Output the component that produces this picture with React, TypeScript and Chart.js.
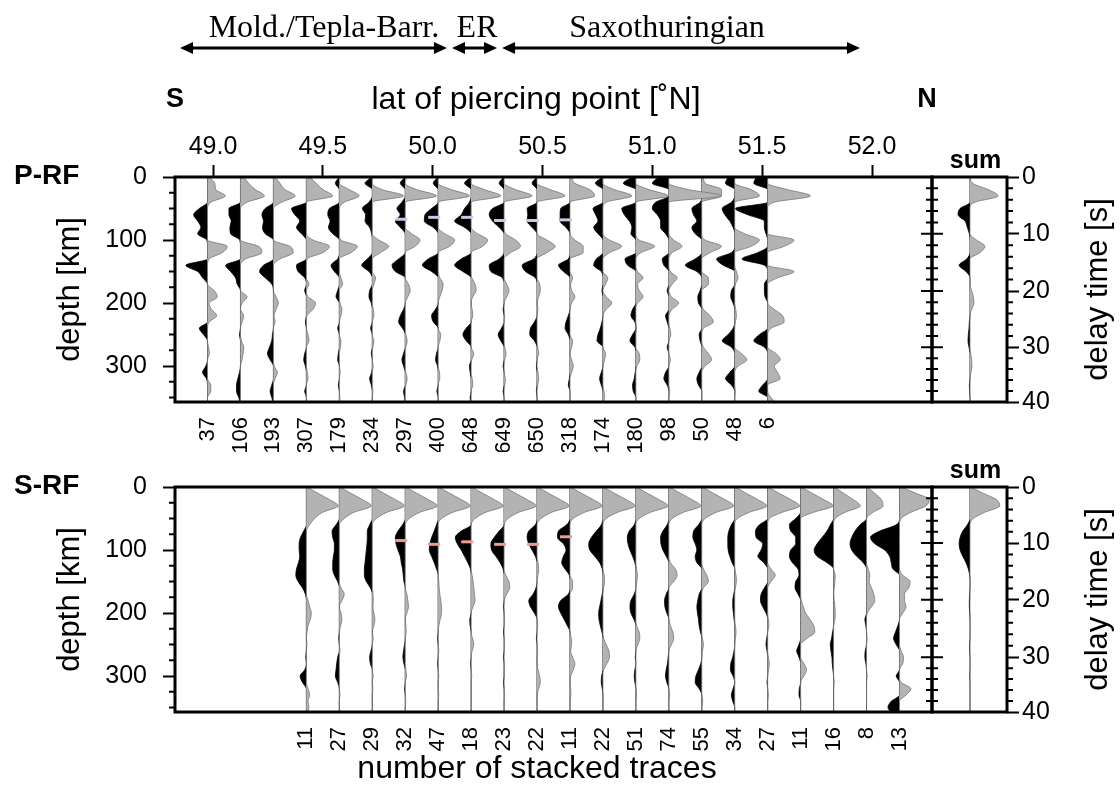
import React, { useEffect, useRef } from 'react';
import { Chart, registerables } from 'chart.js';

Chart.register(...registerables);

const SANS = '"Liberation Sans", Arial, Helvetica, sans-serif';
const SERIF = '"Liberation Serif", "Times New Roman", Times, serif';

// depth samples (km) shared by every receiver-function trace
const DEPTHS = [
  0, 10, 20, 30, 40, 50, 60, 70, 80, 90,
  100, 110, 120, 130, 140, 150, 160, 170, 180, 190,
  200, 210, 220, 230, 240, 250, 260, 270, 280, 290,
  300, 310, 320, 330, 340, 350, 360,
];

const LAT_TICKS = [49.0, 49.5, 50.0, 50.5, 51.0, 51.5, 52.0];
const DEPTH_TICKS = [0, 100, 200, 300];
const DEPTH_MINOR = [25, 50, 75, 125, 150, 175, 225, 250, 275, 325, 350];
const TIME_TICKS = [0, 10, 20, 30, 40];
const TIME_MINOR = [2, 4, 6, 8, 12, 14, 16, 18, 22, 24, 26, 28, 32, 34, 36, 38];
const P_TIME_DEPTHS = [0, 90, 181, 270, 357];
const S_TIME_DEPTHS = [0, 89, 179, 270, 357];

// bin centres (latitude of piercing point) and stack counts
const P_LATS = [48.975, 49.125, 49.275, 49.425, 49.575, 49.725, 49.875, 50.025, 50.175,
  50.325, 50.475, 50.625, 50.775, 50.925, 51.075, 51.225, 51.375, 51.525];
const P_COUNTS = [37, 106, 193, 307, 179, 234, 297, 400, 648, 649, 650, 318, 174, 180, 98, 50, 48, 6];
const S_LATS = [49.425, 49.575, 49.725, 49.875, 50.025, 50.175, 50.325, 50.475, 50.625, 50.775,
  50.925, 51.075, 51.225, 51.375, 51.525, 51.675, 51.825, 51.975, 52.125];
const S_COUNTS = [11, 27, 29, 32, 47, 18, 23, 22, 11, 22, 51, 74, 55, 34, 27, 11, 16, 8, 13];

// P receiver functions, amplitude in bin widths, one value per depth sample
const P01 = [0.05, 0.22, 0.25, 0.54, 0.10, -0.25, -0.42, -0.30, -0.20, -0.30,
  -0.02, 0.60, 0.45, 0.05, -0.66, -0.30, -0.15, 0.00, 0.20, 0.30,
  0.05, 0.12, 0.28, 0.05, -0.25, -0.12, 0.00, 0.03, 0.06, 0.00,
  -0.05, -0.15, -0.03, 0.10, 0.10, 0.00, 0.00];
const P02 = [0.10, 0.25, 0.45, 0.73, 0.20, -0.35, -0.35, -0.28, -0.32, -0.30,
  -0.02, 0.55, 0.65, 0.15, -0.45, -0.30, -0.15, -0.10, 0.00, 0.20,
  0.05, 0.00, 0.10, 0.05, 0.00, -0.03, 0.03, 0.10, 0.08, 0.05,
  0.00, -0.03, -0.08, -0.12, -0.12, -0.05, 0.00];
const P03 = [0.05, 0.20, 0.35, 0.66, 0.25, -0.25, -0.35, -0.30, -0.33, -0.25,
  0.00, 0.50, 0.60, 0.20, -0.30, -0.42, -0.25, -0.05, 0.00, 0.08,
  0.15, 0.08, 0.02, 0.05, 0.00, -0.03, -0.05, -0.12, -0.18, -0.10,
  0.02, 0.12, 0.05, -0.05, -0.10, -0.05, 0.00];
const P04 = [0.10, 0.30, 0.50, 0.80, 0.00, -0.45, -0.35, -0.20, -0.30, -0.15,
  0.20, 0.70, 0.50, 0.02, -0.30, -0.25, -0.05, 0.08, -0.05, 0.05,
  0.28, 0.20, 0.02, -0.03, 0.00, 0.05, 0.08, 0.00, -0.05, -0.08,
  -0.03, 0.03, 0.05, 0.00, -0.05, 0.00, 0.00];
const P05 = [0.05, -0.12, 0.30, 0.60, 0.15, -0.30, -0.35, -0.28, -0.33, -0.20,
  0.05, 0.55, 0.35, -0.05, -0.25, -0.15, 0.05, 0.10, -0.05, -0.10,
  0.02, 0.08, 0.05, 0.00, -0.05, 0.00, 0.05, 0.03, -0.03, -0.05,
  0.00, 0.03, 0.00, -0.03, 0.00, 0.02, 0.00];
const P06 = [0.00, -0.22, 0.30, 0.95, -0.10, -0.30, -0.20, -0.22, -0.08, -0.02,
  0.20, 0.50, 0.25, -0.15, -0.32, -0.10, 0.10, 0.05, -0.08, -0.10,
  -0.03, 0.03, 0.05, 0.00, -0.05, 0.00, 0.05, 0.02, -0.03, 0.00,
  0.03, -0.02, -0.08, -0.03, 0.02, 0.00, 0.00];
const P07 = [0.05, -0.15, 0.35, 0.95, -0.10, -0.25, -0.15, -0.30, -0.15, 0.20,
  0.45, 0.30, 0.00, -0.20, -0.40, -0.30, 0.00, 0.10, 0.15, 0.08,
  0.00, -0.05, -0.15, -0.20, -0.08, 0.02, 0.06, 0.02, -0.05, -0.10,
  -0.05, 0.02, 0.06, 0.02, -0.05, -0.02, 0.00];
const P08 = [0.00, -0.15, 0.40, 0.95, 0.00, -0.20, -0.40, -0.42, -0.15, 0.20,
  0.50, 0.35, 0.00, -0.30, -0.48, -0.20, 0.05, 0.15, 0.12, 0.05,
  0.00, -0.08, -0.20, -0.15, 0.00, 0.08, 0.05, 0.00, -0.05, -0.08,
  -0.02, 0.04, 0.05, 0.00, -0.04, 0.00, 0.00];
const P09 = [0.00, -0.20, 0.40, 0.90, -0.05, -0.20, -0.30, -0.50, -0.20, 0.20,
  0.50, 0.35, 0.00, -0.30, -0.50, -0.25, 0.02, 0.12, 0.15, 0.05,
  0.00, 0.03, 0.05, 0.00, -0.15, -0.25, -0.15, 0.00, 0.08, 0.02,
  -0.05, -0.03, 0.03, 0.05, 0.00, -0.03, 0.00];
const P10 = [0.00, -0.15, 0.35, 0.85, 0.00, -0.35, -0.45, -0.35, -0.15, 0.05,
  0.35, 0.50, 0.20, -0.15, -0.45, -0.40, -0.05, 0.08, 0.15, 0.08,
  0.00, -0.03, 0.02, 0.00, -0.08, -0.18, -0.10, 0.02, 0.06, 0.02,
  -0.03, 0.00, 0.04, 0.02, -0.03, 0.00, 0.00];
const P11 = [0.00, -0.15, 0.40, 0.85, 0.00, -0.30, -0.28, -0.30, -0.15, 0.00,
  0.30, 0.55, 0.30, -0.10, -0.45, -0.35, -0.05, 0.08, 0.10, 0.05,
  0.00, 0.03, 0.00, -0.08, -0.20, -0.22, -0.08, 0.02, 0.05, 0.00,
  -0.02, 0.03, 0.05, 0.02, -0.02, 0.00, 0.00];
const P12 = [0.05, 0.15, 0.60, 0.75, 0.00, -0.28, -0.30, -0.30, -0.12, 0.00,
  0.15, 0.40, 0.40, -0.05, -0.35, -0.20, 0.08, 0.02, 0.05, 0.15,
  0.05, 0.00, -0.05, -0.12, -0.15, -0.05, 0.08, 0.05, 0.00, 0.05,
  0.10, 0.05, -0.02, -0.05, 0.00, 0.00, 0.00];
const P13 = [0.00, -0.23, 0.35, 0.88, 0.10, -0.30, -0.22, -0.15, -0.28, -0.15,
  0.20, 0.57, 0.20, -0.20, -0.28, -0.05, 0.15, 0.08, -0.03, 0.10,
  0.27, 0.10, 0.00, -0.03, -0.08, -0.15, -0.18, 0.00, 0.08, 0.05,
  0.00, -0.05, -0.10, -0.05, 0.03, 0.05, 0.00];
const P14 = [-0.10, -0.38, 0.40, 0.98, 0.00, -0.43, -0.35, -0.20, -0.12, -0.15,
  0.10, 0.57, 0.15, -0.33, -0.25, 0.05, 0.22, 0.05, 0.10, 0.22,
  0.05, -0.10, -0.15, -0.03, 0.02, -0.10, -0.18, -0.03, 0.10, 0.12,
  0.03, -0.02, -0.05, -0.10, -0.08, 0.00, 0.00];
const P15 = [-0.30, -0.50, 0.60, 1.60, -0.40, -0.50, -0.35, -0.25, -0.25, -0.10,
  0.15, 0.40, 0.10, -0.20, -0.15, 0.05, 0.25, 0.10, -0.05, 0.08,
  0.30, 0.10, -0.10, -0.05, 0.03, 0.06, 0.00, -0.05, 0.00, 0.05,
  0.00, -0.10, -0.15, -0.05, 0.03, 0.00, 0.00];
const P16 = [0.05, 0.10, 0.60, 0.60, -0.05, -0.30, -0.25, -0.15, -0.30, -0.20,
  0.10, 0.60, 0.25, -0.20, -0.50, -0.15, 0.20, 0.20, -0.05, -0.12,
  -0.10, 0.05, 0.25, 0.35, 0.05, -0.08, -0.05, 0.05, 0.20, 0.30,
  0.10, -0.08, -0.15, -0.10, 0.00, 0.00, 0.00];
const P17 = [-0.20, -0.28, 0.50, 0.75, -0.10, -0.38, -0.30, -0.15, -0.05, 0.30,
  0.75, 0.50, -0.10, -0.55, -0.35, 0.05, 0.10, 0.02, -0.10, -0.12,
  -0.05, 0.03, 0.05, 0.02, -0.05, -0.20, -0.38, -0.10, 0.20, 0.37,
  0.10, -0.15, -0.28, -0.10, 0.02, 0.00, 0.00];
const P18 = [-0.35, -0.42, 0.60, 1.30, 0.20, -0.98, -0.60, -0.10, -0.10, -0.05,
  0.80, 0.50, -0.30, -0.78, -0.10, 0.80, 0.30, -0.10, -0.10, -0.08,
  0.00, 0.20, 0.45, 0.50, 0.10, -0.25, -0.42, -0.10, 0.25, 0.38,
  0.20, 0.30, 0.38, -0.15, -0.27, 0.10, 0.28];
const P_SUM = [0.00, 0.08, 0.55, 0.85, 0.15, -0.30, -0.36, -0.15, -0.08, -0.02,
  0.20, 0.45, 0.30, -0.10, -0.33, -0.12, 0.00, 0.00, 0.05, 0.10,
  0.12, 0.05, 0.00, -0.02, -0.03, -0.05, -0.06, -0.03, 0.02, 0.05,
  0.06, 0.03, 0.00, -0.02, -0.01, 0.00, 0.00];

// S receiver functions
const S01 = [0.02, 0.35, 0.70, 0.97, 0.50, 0.25, 0.10, -0.08, -0.18, -0.22,
  -0.22, -0.20, -0.24, -0.30, -0.32, -0.25, -0.12, -0.03, 0.05, 0.10,
  0.15, 0.12, 0.05, 0.02, 0.00, 0.02, 0.00, -0.02, 0.00, -0.05,
  -0.19, -0.12, 0.05, 0.10, 0.05, 0.08, 0.00];
const S02 = [0.02, 0.35, 0.70, 0.97, 0.45, 0.15, -0.10, -0.22, -0.20, -0.15,
  -0.15, -0.18, -0.20, -0.20, -0.15, -0.05, 0.05, 0.15, 0.08, 0.00,
  0.05, 0.08, 0.04, 0.00, -0.02, 0.00, 0.02, -0.05, -0.08, -0.10,
  -0.12, -0.05, 0.00, 0.02, 0.00, 0.00, 0.00];
const S03 = [0.02, 0.35, 0.70, 0.97, 0.45, 0.12, -0.08, -0.15, -0.15, -0.16,
  -0.18, -0.20, -0.22, -0.24, -0.24, -0.18, -0.06, 0.02, 0.03, 0.02,
  0.05, 0.08, 0.05, 0.00, 0.03, 0.00, -0.04, -0.08, -0.06, 0.00,
  0.03, 0.00, 0.02, 0.00, 0.00, 0.00, 0.00];
const S04 = [0.02, 0.35, 0.70, 0.97, 0.45, 0.12, -0.08, -0.22, -0.30, -0.28,
  -0.22, -0.15, -0.12, -0.08, -0.06, -0.04, 0.00, 0.05, 0.08, 0.10,
  0.05, 0.00, 0.02, 0.03, 0.00, -0.02, -0.05, -0.07, -0.04, 0.02,
  0.04, 0.00, -0.02, 0.00, 0.02, 0.00, 0.00];
const S05 = [0.02, 0.35, 0.70, 0.97, 0.45, 0.10, -0.05, -0.12, -0.20, -0.25,
  -0.27, -0.20, -0.12, -0.05, 0.00, 0.02, 0.03, 0.05, 0.08, 0.10,
  0.10, 0.06, 0.02, 0.00, -0.02, 0.00, 0.02, 0.00, -0.02, 0.00,
  0.02, 0.00, 0.00, 0.02, 0.00, 0.00, 0.00];
const S06 = [0.02, 0.35, 0.70, 0.97, 0.45, 0.12, 0.00, -0.30, -0.48, -0.42,
  -0.30, -0.20, -0.10, -0.02, 0.03, 0.06, 0.08, 0.10, 0.12, 0.06,
  0.00, -0.04, -0.03, 0.00, 0.04, 0.08, 0.03, 0.00, -0.02, 0.00,
  0.02, 0.00, 0.00, 0.00, 0.00, 0.00, 0.00];
const S07 = [0.02, 0.35, 0.70, 0.97, 0.45, 0.12, 0.00, -0.15, -0.30, -0.40,
  -0.38, -0.25, -0.12, -0.03, 0.05, 0.15, 0.17, 0.08, 0.00, -0.02,
  0.00, 0.02, 0.00, -0.02, 0.00, 0.02, 0.00, -0.02, 0.00, 0.00,
  0.00, -0.02, 0.00, 0.02, 0.00, 0.00, 0.00];
const S08 = [0.02, 0.35, 0.70, 0.97, 0.45, 0.12, -0.05, -0.25, -0.30, -0.25,
  -0.15, -0.05, 0.03, 0.05, 0.03, 0.00, -0.03, -0.12, -0.25, -0.20,
  -0.08, 0.00, 0.02, 0.00, -0.02, 0.00, 0.02, 0.00, 0.00, 0.03,
  0.08, 0.10, 0.05, 0.00, 0.00, 0.00, 0.00];
const S09 = [0.02, 0.35, 0.70, 0.97, 0.45, 0.10, -0.10, -0.35, -0.38, -0.20,
  -0.12, -0.20, -0.25, -0.15, -0.02, 0.08, 0.08, -0.05, -0.28, -0.35,
  -0.28, -0.18, -0.08, 0.00, 0.04, 0.05, 0.02, 0.08, 0.15, 0.10,
  0.02, 0.00, 0.02, 0.03, 0.00, 0.00, 0.00];
const S10 = [0.02, 0.35, 0.70, 0.97, 0.45, 0.10, -0.05, -0.20, -0.35, -0.43,
  -0.40, -0.25, -0.10, -0.02, 0.04, 0.05, 0.02, -0.02, -0.06, -0.10,
  -0.13, -0.12, -0.08, -0.03, 0.02, 0.10, 0.18, 0.20, 0.12, 0.02,
  -0.04, -0.05, -0.02, 0.00, 0.00, 0.00, 0.00];
const S11 = [0.02, 0.35, 0.70, 0.97, 0.45, 0.10, -0.05, -0.20, -0.26, -0.24,
  -0.18, -0.10, -0.03, 0.02, 0.05, 0.03, 0.00, -0.05, -0.15, -0.18,
  -0.15, -0.06, 0.02, 0.10, 0.12, 0.06, 0.00, -0.02, 0.00, -0.03,
  -0.05, -0.03, 0.00, 0.02, 0.00, 0.00, 0.00];
const S12 = [0.02, 0.35, 0.70, 0.97, 0.45, 0.10, -0.05, -0.18, -0.25, -0.24,
  -0.18, -0.08, 0.05, 0.20, 0.25, 0.15, 0.00, -0.08, -0.13, -0.12,
  -0.06, 0.00, 0.05, 0.12, 0.15, 0.08, 0.00, -0.02, -0.04, -0.08,
  -0.10, -0.06, 0.00, 0.02, 0.00, 0.00, 0.00];
const S13 = [0.02, 0.35, 0.70, 0.97, 0.45, 0.10, -0.10, -0.25, -0.27, -0.20,
  -0.15, -0.20, -0.15, 0.05, 0.15, 0.20, 0.05, -0.08, -0.12, -0.15,
  -0.13, -0.10, -0.08, -0.04, 0.02, 0.05, 0.02, 0.00, -0.03, -0.10,
  -0.18, -0.20, -0.08, 0.00, 0.03, 0.00, 0.00];
const S14 = [0.02, 0.35, 0.70, 0.97, 0.45, 0.08, -0.10, -0.18, -0.21, -0.21,
  -0.20, -0.15, -0.08, 0.00, 0.04, 0.05, 0.02, -0.03, -0.06, -0.06,
  -0.04, -0.02, 0.02, 0.04, 0.02, 0.00, -0.02, -0.06, -0.12, -0.13,
  -0.05, 0.00, -0.05, -0.10, -0.06, 0.00, 0.00];
const S15 = [0.02, 0.35, 0.70, 0.97, 0.45, 0.05, -0.25, -0.37, -0.35, -0.15,
  -0.20, -0.30, -0.12, 0.10, 0.23, 0.10, -0.10, -0.20, -0.22, -0.15,
  -0.05, 0.02, 0.04, 0.00, -0.03, -0.05, -0.02, 0.02, 0.05, 0.03,
  0.00, -0.02, 0.00, 0.02, 0.00, 0.00, 0.00];
const S16 = [0.02, 0.35, 0.70, 0.98, 0.40, -0.15, -0.34, -0.30, -0.15, -0.15,
  -0.30, -0.34, -0.25, -0.08, -0.05, -0.15, -0.17, -0.08, 0.02, 0.08,
  0.15, 0.28, 0.40, 0.43, 0.20, -0.05, -0.12, -0.05, 0.10, 0.18,
  0.10, 0.00, -0.04, -0.05, 0.00, 0.00, 0.00];
const S17 = [0.02, 0.30, 0.60, 0.81, 0.35, 0.05, -0.10, -0.20, -0.35, -0.50,
  -0.59, -0.50, -0.20, 0.00, 0.05, 0.04, 0.02, 0.00, 0.02, 0.04,
  0.05, 0.04, 0.00, -0.03, -0.06, -0.10, -0.08, -0.05, -0.04, -0.02,
  0.00, 0.02, 0.00, 0.00, 0.00, 0.00, 0.00];
const S18 = [0.02, 0.25, 0.45, 0.50, 0.20, 0.00, -0.20, -0.35, -0.45, -0.50,
  -0.45, -0.30, -0.10, 0.05, 0.10, 0.08, 0.15, 0.22, 0.25, 0.15,
  0.02, -0.05, -0.02, 0.00, 0.02, 0.00, -0.04, -0.05, -0.02, 0.00,
  0.02, 0.00, 0.00, 0.00, 0.00, 0.00, 0.00];
const S19 = [0.05, 0.50, 0.90, 0.80, 0.35, 0.05, -0.10, -0.60, -0.88, -0.75,
  -0.45, -0.30, -0.25, -0.20, 0.10, 0.32, 0.28, 0.15, 0.15, 0.20,
  0.10, 0.00, -0.05, -0.12, -0.18, -0.10, 0.05, 0.12, 0.10, 0.00,
  -0.10, 0.05, 0.35, 0.20, -0.25, -0.35, -0.20];
const S_SUM = [0.02, 0.40, 0.80, 0.90, 0.45, 0.10, -0.08, -0.22, -0.30, -0.33,
  -0.30, -0.22, -0.12, -0.05, -0.01, 0.01, 0.00, -0.01, -0.02, -0.02,
  -0.01, 0.00, 0.01, 0.01, 0.00, -0.01, -0.01, 0.00, 0.01, 0.00,
  -0.01, 0.00, 0.00, 0.01, 0.00, 0.00, 0.00];

const P_TRACES = [P01, P02, P03, P04, P05, P06, P07, P08, P09, P10, P11, P12, P13, P14, P15, P16, P17, P18];
const S_TRACES = [S01, S02, S03, S04, S05, S06, S07, S08, S09, S10, S11, S12, S13, S14, S15, S16, S17, S18, S19];

// picked converted phases: trace index and depth (km)
const P_PICK_TRACES = [6, 7, 8, 9, 10, 11];
const P_PICK_DEPTHS = [67, 64, 64, 69, 69, 68];
const S_PICK_TRACES = [3, 4, 5, 6, 7, 8];
const S_PICK_DEPTHS = [85, 91, 87, 91, 91, 79];

// tectonic units along the profile (latitude ranges)
const REGIONS = ['Mold./Tepla-Barr.', 'ER', 'Saxothuringian'];
const REGION_FROM = [48.85, 50.088, 50.316];
const REGION_TO = [50.065, 50.293, 51.945];
const REGION_LABEL_AT = [49.505, 50.202, 51.067];

// layout
const W = 1120;
const H = 800;
const PLOT_LEFT = 175;
const PLOT_RIGHT = 932;
const SUM_RIGHT = 1007;
const LAT_MIN = 48.827;
const LAT_MAX = 52.273;
const DEPTH_MAX = 357;
const BIN = 0.15;
const SUM_MIN = -1.15;
const SUM_MAX = 1.12;
const Y_AXIS_W = 135;
const LAT_AXIS_H = 50;
const CNT_AXIS_H = 50;
const TIME_AXIS_W = 60;

const GRAY_FILL = '#b3b3b3';
const GRAY_EDGE = '#777777';

const PANELS = [
  {
    name: 'P', label: 'P-RF', top: 177, bottom: 402, lats: P_LATS, counts: P_COUNTS, traces: P_TRACES,
    sum: P_SUM, timeDepths: P_TIME_DEPTHS, pickTraces: P_PICK_TRACES, pickDepths: P_PICK_DEPTHS,
    pickColor: '#c7c9e6', latAxis: true, footer: '',
  },
  {
    name: 'S', label: 'S-RF', top: 487, bottom: 712, lats: S_LATS, counts: S_COUNTS, traces: S_TRACES,
    sum: S_SUM, timeDepths: S_TIME_DEPTHS, pickTraces: S_PICK_TRACES, pickDepths: S_PICK_DEPTHS,
    pickColor: '#f09a92', latAxis: false, footer: 'number of stacked traces',
  },
];

function timeToDepth(t: number, depths: number[]) {
  for (let i = 1; i < TIME_TICKS.length; i++) {
    if (t <= TIME_TICKS[i]) {
      const f = (t - TIME_TICKS[i - 1]) / (TIME_TICKS[i] - TIME_TICKS[i - 1]);
      return depths[i - 1] + f * (depths[i] - depths[i - 1]);
    }
  }
  return depths[depths.length - 1];
}

// variable-area wiggle: positive part grey, negative part black, both filled to the trace baseline
function wiggleSets(base: number, amps: number[], gain: number) {
  const pos = DEPTHS.map((d, i) => ({ x: base + gain * Math.max(amps[i] ?? 0, 0), y: d }));
  const neg = DEPTHS.map((d, i) => ({ x: base + gain * Math.min(amps[i] ?? 0, 0), y: d }));
  const common = {
    xAxisID: 'x', yAxisID: 'y', pointRadius: 0, borderWidth: 0.8,
    cubicInterpolationMode: 'monotone', order: 1,
  };
  return [
    { ...common, data: pos, fill: { value: base }, backgroundColor: GRAY_FILL, borderColor: GRAY_EDGE },
    { ...common, data: neg, fill: { value: base }, backgroundColor: '#000000', borderColor: '#000000' },
  ];
}

function drawArrow(ctx: CanvasRenderingContext2D, x1: number, x2: number, y: number) {
  const hl = 13;
  const hw = 6;
  ctx.beginPath();
  ctx.moveTo(x1 + hl - 2, y);
  ctx.lineTo(x2 - hl + 2, y);
  ctx.stroke();
  ctx.beginPath();
  ctx.moveTo(x1, y);
  ctx.lineTo(x1 + hl, y - hw);
  ctx.lineTo(x1 + hl, y + hw);
  ctx.closePath();
  ctx.moveTo(x2, y);
  ctx.lineTo(x2 - hl, y - hw);
  ctx.lineTo(x2 - hl, y + hw);
  ctx.closePath();
  ctx.fill();
}

function mainDecor(p: any) {
  return {
    id: 'mainDecor' + p.name,
    afterDraw(chart: any) {
      const { ctx, chartArea: a, scales } = chart;
      ctx.save();
      ctx.strokeStyle = '#000';
      ctx.fillStyle = '#000';
      ctx.lineWidth = 3;
      ctx.strokeRect(a.left, a.top, a.right - a.left, a.bottom - a.top);

      ctx.lineWidth = 2;
      ctx.beginPath();
      for (const d of DEPTH_MINOR) {
        const y = scales.y.getPixelForValue(d);
        ctx.moveTo(a.left - 6, y);
        ctx.lineTo(a.left, y);
      }
      ctx.stroke();

      ctx.font = `bold 28px ${SANS}`;
      ctx.textAlign = 'left';
      ctx.textBaseline = 'middle';
      ctx.fillText(p.label, 14, a.top - 1);

      if (p.latAxis) {
        const xs = scales.x;
        ctx.font = `32px ${SERIF}`;
        ctx.textAlign = 'center';
        ctx.textBaseline = 'alphabetic';
        REGIONS.forEach((name, i) => {
          ctx.fillText(name, xs.getPixelForValue(REGION_LABEL_AT[i]), 37);
        });
        ctx.lineWidth = 3;
        REGIONS.forEach((_, i) => {
          drawArrow(ctx, xs.getPixelForValue(REGION_FROM[i]), xs.getPixelForValue(REGION_TO[i]), 48);
        });
        ctx.textBaseline = 'middle';
        ctx.font = `bold 27px ${SANS}`;
        ctx.fillText('S', a.left, 100);
        ctx.fillText('N', a.right - 5, 100);
        ctx.font = `32px ${SANS}`;
        ctx.fillText('lat of piercing point [˚N]', 536, 100);
      }
      if (p.footer) {
        ctx.font = `32px ${SANS}`;
        ctx.textAlign = 'center';
        ctx.textBaseline = 'alphabetic';
        ctx.fillText(p.footer, 537, 778);
      }
      ctx.restore();
    },
  };
}

function sumDecor(p: any) {
  return {
    id: 'sumDecor' + p.name,
    afterDraw(chart: any) {
      const { ctx, chartArea: a } = chart;
      const ys = chart.scales.y;
      ctx.save();
      ctx.strokeStyle = '#000';
      ctx.fillStyle = '#000';
      ctx.lineWidth = 3;
      ctx.strokeRect(a.left, a.top, a.right - a.left, a.bottom - a.top);
      ctx.lineWidth = 2;
      ctx.beginPath();
      p.timeDepths.forEach((d: number) => {
        const y = ys.getPixelForValue(d);
        ctx.moveTo(a.left - 11, y);
        ctx.lineTo(a.left + 11, y);
      });
      TIME_MINOR.forEach((t) => {
        const y = ys.getPixelForValue(timeToDepth(t, p.timeDepths));
        ctx.moveTo(a.left - 6, y);
        ctx.lineTo(a.left + 6, y);
        ctx.moveTo(a.right, y);
        ctx.lineTo(a.right + 6, y);
      });
      ctx.stroke();

      ctx.font = `bold 25px ${SANS}`;
      ctx.textAlign = 'center';
      ctx.textBaseline = 'alphabetic';
      ctx.fillText('sum', (a.left + a.right) / 2 + 6, a.top - 9);

      ctx.translate(1098, (a.top + a.bottom) / 2);
      ctx.rotate(-Math.PI / 2);
      ctx.font = `31px ${SANS}`;
      ctx.textBaseline = 'middle';
      ctx.fillText('delay time [s]', 0, 0);
      ctx.restore();
    },
  };
}

const tickFont = { family: SANS, size: 25 };

function mainChart(canvas: HTMLCanvasElement, p: any) {
  const picks = {
    xAxisID: 'x', yAxisID: 'y', order: 0, showLine: false, borderWidth: 0,
    data: p.pickTraces.map((ti: number, k: number) => ({ x: p.lats[ti] - 0.018, y: p.pickDepths[k] })),
    pointStyle: 'line', pointRadius: 6, pointBorderWidth: 3,
    pointBorderColor: p.pickColor, pointBackgroundColor: p.pickColor, borderColor: 'rgba(0,0,0,0)',
  };
  const datasets: any[] = [picks];
  p.lats.forEach((lat: number, i: number) => datasets.push(...wiggleSets(lat, p.traces[i], BIN)));

  return new Chart(canvas, {
    type: 'line',
    data: { datasets },
    options: {
      responsive: false,
      animation: false,
      devicePixelRatio: 1,
      events: [],
      indexAxis: 'y',
      layout: {
        autoPadding: false,
        padding: {
          left: PLOT_LEFT - Y_AXIS_W,
          right: W - PLOT_RIGHT,
          top: p.top - (p.latAxis ? LAT_AXIS_H : 0),
          bottom: H - p.bottom - CNT_AXIS_H,
        },
      },
      plugins: { legend: { display: false }, tooltip: { enabled: false } },
      scales: {
        x: {
          type: 'linear', position: 'top', display: p.latAxis, min: LAT_MIN, max: LAT_MAX,
          afterBuildTicks: (s: any) => { s.ticks = LAT_TICKS.map((v) => ({ value: v })); },
          afterFit: (s: any) => { s.height = p.latAxis ? LAT_AXIS_H : 0; },
          ticks: {
            callback: (v: any) => Number(v).toFixed(1), font: tickFont, color: '#000',
            padding: 3, autoSkip: false, maxRotation: 0,
          },
          grid: { drawOnChartArea: false, drawTicks: true, tickLength: 12, tickWidth: 2, tickColor: '#000' },
          border: { display: false },
        },
        xc: {
          type: 'linear', position: 'bottom', min: LAT_MIN, max: LAT_MAX,
          afterBuildTicks: (s: any) => { s.ticks = p.lats.map((v: number) => ({ value: v })); },
          afterFit: (s: any) => { s.height = CNT_AXIS_H; },
          ticks: {
            callback: (_v: any, i: number) => String(p.counts[i]),
            font: { family: SANS, size: 22 }, color: '#000', padding: 7,
            autoSkip: false, minRotation: 90, maxRotation: 90,
          },
          grid: { display: false },
          border: { display: false },
        },
        y: {
          type: 'linear', position: 'left', min: 0, max: DEPTH_MAX, reverse: true,
          afterBuildTicks: (s: any) => { s.ticks = DEPTH_TICKS.map((v) => ({ value: v })); },
          afterFit: (s: any) => { s.width = Y_AXIS_W; },
          ticks: { font: tickFont, color: '#000', padding: 16 },
          grid: { drawOnChartArea: false, drawTicks: true, tickLength: 12, tickWidth: 2, tickColor: '#000' },
          border: { display: false },
          title: {
            display: true, text: 'depth [km]', color: '#000',
            font: { family: SANS, size: 31 }, padding: { top: 12, bottom: 0 },
          },
        },
      },
    } as any,
    plugins: [mainDecor(p)],
  });
}

function sumChart(canvas: HTMLCanvasElement, p: any) {
  return new Chart(canvas, {
    type: 'line',
    data: { datasets: wiggleSets(0, p.sum, 1) as any },
    options: {
      responsive: false,
      animation: false,
      devicePixelRatio: 1,
      events: [],
      indexAxis: 'y',
      layout: {
        autoPadding: false,
        padding: { left: PLOT_RIGHT, right: W - SUM_RIGHT - TIME_AXIS_W, top: p.top, bottom: H - p.bottom },
      },
      plugins: { legend: { display: false }, tooltip: { enabled: false } },
      scales: {
        x: { type: 'linear', display: false, min: SUM_MIN, max: SUM_MAX },
        y: {
          type: 'linear', position: 'right', min: 0, max: DEPTH_MAX, reverse: true,
          afterBuildTicks: (s: any) => { s.ticks = p.timeDepths.map((v: number) => ({ value: v })); },
          afterFit: (s: any) => { s.width = TIME_AXIS_W; },
          ticks: { callback: (_v: any, i: number) => String(TIME_TICKS[i]), font: tickFont, color: '#000', padding: 3 },
          grid: { drawOnChartArea: false, drawTicks: true, tickLength: 12, tickWidth: 2, tickColor: '#000' },
          border: { display: false },
        },
      },
    } as any,
    plugins: [sumDecor(p)],
  });
}

export default function App() {
  const pMain = useRef<HTMLCanvasElement>(null);
  const pSum = useRef<HTMLCanvasElement>(null);
  const sMain = useRef<HTMLCanvasElement>(null);
  const sSum = useRef<HTMLCanvasElement>(null);

  useEffect(() => {
    const charts = [
      mainChart(pMain.current!, PANELS[0]),
      sumChart(pSum.current!, PANELS[0]),
      mainChart(sMain.current!, PANELS[1]),
      sumChart(sSum.current!, PANELS[1]),
    ];
    return () => charts.forEach((c) => c.destroy());
  }, []);

  const layer: React.CSSProperties = { position: 'absolute', left: 0, top: 0, width: W, height: H };
  return (
    <div style={{ position: 'fixed', left: 0, top: 0, width: W, height: H, background: '#fff' }}>
      <canvas ref={pMain} width={W} height={H} style={layer} />
      <canvas ref={pSum} width={W} height={H} style={layer} />
      <canvas ref={sMain} width={W} height={H} style={layer} />
      <canvas ref={sSum} width={W} height={H} style={layer} />
    </div>
  );
}
